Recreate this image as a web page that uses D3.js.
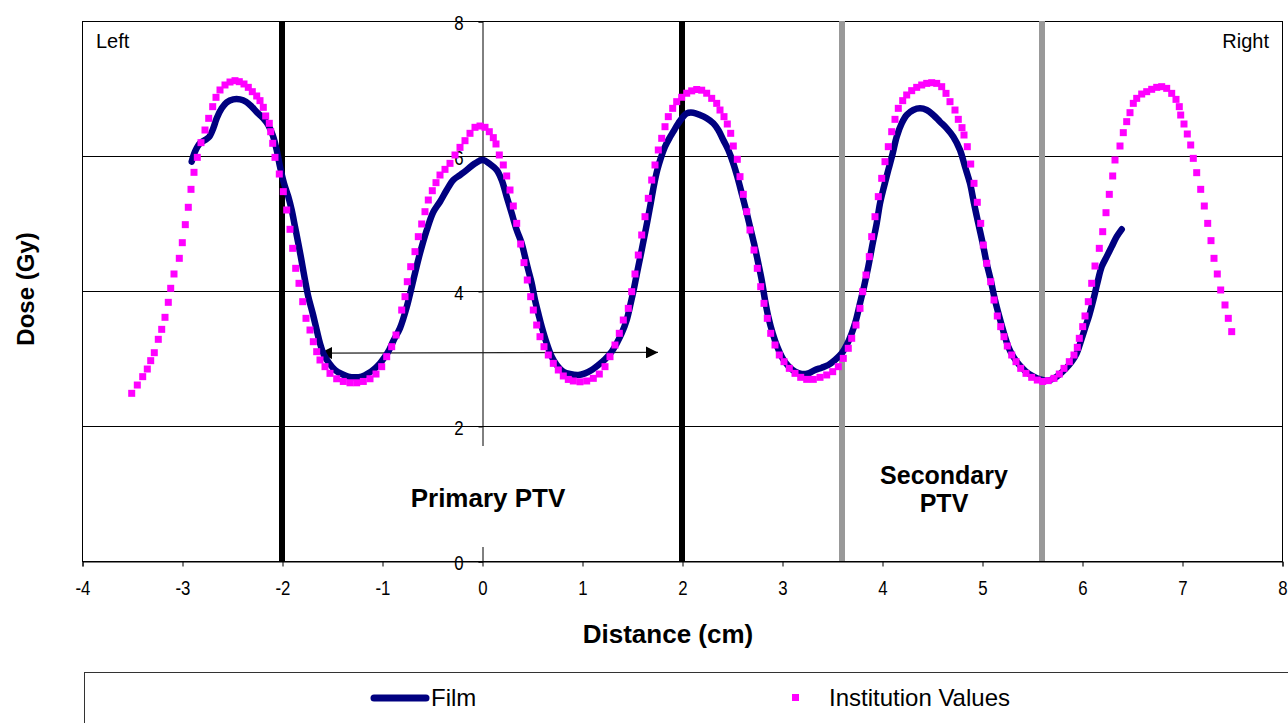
<!DOCTYPE html>
<html>
<head>
<meta charset="utf-8">
<script src="https://cdn.jsdelivr.net/npm/d3@7"></script>
<style>
  html, body { margin: 0; padding: 0; background: #fff; }
  svg { display: block; font-family: "Liberation Sans", Arial, sans-serif; }
</style>
</head>
<body>
<svg id="chart" width="1288" height="723"></svg>
<script>
// ---------------- DATA ----------------
const xTicks = [-4, -3, -2, -1, 0, 1, 2, 3, 4, 5, 6, 7, 8];
const yTicks = [0, 2, 4, 6, 8];

// Film (continuous line): [distance cm, dose Gy]
const filmX = [-2.903,-2.870,-2.820,-2.770,-2.727,-2.687,-2.653,-2.603,-2.553,-2.487,-2.420,-2.360,-2.303,-2.247,-2.187,-2.137,-2.093,-2.053,-2.020,-1.980,-1.937,-1.903,-1.870,-1.837,-1.803,-1.770,-1.737,-1.693,-1.653,-1.620,-1.580,-1.527,-1.470,-1.403,-1.337,-1.270,-1.203,-1.137,-1.070,-1.020,-0.970,-0.927,-0.887,-0.820,-0.753,-0.687,-0.620,-0.553,-0.487,-0.420,-0.353,-0.287,-0.220,-0.153,-0.070,0.007,0.080,0.147,0.197,0.247,0.297,0.347,0.397,0.430,0.463,0.497,0.530,0.563,0.597,0.647,0.697,0.747,0.813,0.880,0.963,1.030,1.097,1.163,1.230,1.297,1.347,1.397,1.447,1.487,1.520,1.553,1.587,1.620,1.653,1.687,1.720,1.753,1.787,1.830,1.873,1.913,1.963,2.047,2.113,2.180,2.247,2.313,2.363,2.413,2.463,2.513,2.553,2.597,2.640,2.680,2.720,2.763,2.797,2.830,2.863,2.907,2.953,3.007,3.063,3.130,3.197,3.263,3.330,3.397,3.463,3.530,3.597,3.647,3.697,3.740,3.780,3.820,3.863,3.907,3.947,3.980,4.020,4.063,4.107,4.147,4.197,4.247,4.313,4.380,4.447,4.513,4.580,4.647,4.713,4.780,4.830,4.880,4.920,4.963,5.007,5.047,5.087,5.130,5.173,5.220,5.263,5.313,5.373,5.440,5.507,5.580,5.653,5.720,5.780,5.840,5.897,5.947,5.987,6.030,6.073,6.113,6.153,6.197,6.247,6.297,6.347,6.397];
const filmY = [5.916,6.064,6.188,6.237,6.286,6.410,6.558,6.706,6.795,6.839,6.839,6.805,6.731,6.642,6.558,6.459,6.311,6.089,5.842,5.595,5.397,5.200,4.953,4.706,4.435,4.163,3.916,3.669,3.422,3.225,3.052,2.928,2.830,2.770,2.731,2.721,2.731,2.780,2.854,2.928,3.027,3.130,3.260,3.450,3.760,4.160,4.560,4.900,5.170,5.323,5.496,5.644,5.718,5.793,5.891,5.941,5.881,5.793,5.644,5.397,5.151,4.904,4.706,4.509,4.311,4.114,3.867,3.669,3.472,3.225,3.027,2.904,2.805,2.770,2.756,2.780,2.830,2.904,2.988,3.101,3.225,3.373,3.570,3.817,4.039,4.286,4.533,4.780,5.027,5.299,5.570,5.793,5.965,6.138,6.262,6.360,6.484,6.632,6.642,6.607,6.558,6.484,6.385,6.237,6.089,5.891,5.694,5.447,5.200,4.953,4.706,4.410,4.163,3.867,3.620,3.373,3.175,3.002,2.889,2.805,2.770,2.780,2.830,2.864,2.904,2.978,3.076,3.200,3.373,3.570,3.817,4.064,4.360,4.706,5.002,5.299,5.546,5.792,6.039,6.286,6.484,6.607,6.681,6.706,6.681,6.607,6.508,6.410,6.286,6.089,5.842,5.595,5.299,5.002,4.706,4.410,4.163,3.867,3.620,3.373,3.175,3.027,2.904,2.805,2.741,2.691,2.672,2.706,2.770,2.854,2.953,3.076,3.249,3.447,3.644,3.867,4.114,4.360,4.509,4.657,4.805,4.914];

// Institution Values (square markers)
const instX = [-3.503,-3.447,-3.393,-3.347,-3.313,-3.277,-3.237,-3.203,-3.170,-3.137,-3.113,-3.080,-3.027,-2.997,-2.967,-2.937,-2.910,-2.880,-2.847,-2.810,-2.770,-2.733,-2.693,-2.660,-2.620,-2.570,-2.520,-2.470,-2.427,-2.380,-2.337,-2.297,-2.253,-2.220,-2.187,-2.163,-2.127,-2.113,-2.093,-2.070,-2.027,-1.987,-1.953,-1.920,-1.893,-1.863,-1.830,-1.793,-1.760,-1.720,-1.687,-1.653,-1.620,-1.570,-1.520,-1.453,-1.387,-1.320,-1.253,-1.187,-1.120,-1.060,-1.003,-0.953,-0.903,-0.860,-0.803,-0.770,-0.747,-0.713,-0.670,-0.637,-0.603,-0.570,-0.537,-0.497,-0.460,-0.420,-0.370,-0.320,-0.270,-0.220,-0.170,-0.120,-0.070,-0.020,0.030,0.073,0.113,0.140,0.173,0.213,0.247,0.280,0.313,0.347,0.387,0.420,0.453,0.487,0.513,0.547,0.580,0.620,0.663,0.713,0.763,0.813,0.863,0.913,0.980,1.047,1.113,1.173,1.230,1.280,1.330,1.373,1.413,1.463,1.497,1.530,1.563,1.597,1.630,1.663,1.697,1.730,1.763,1.797,1.830,1.863,1.907,1.947,1.997,2.047,2.097,2.147,2.197,2.247,2.297,2.347,2.380,2.420,2.453,2.487,2.513,2.553,2.580,2.613,2.647,2.680,2.720,2.753,2.787,2.820,2.853,2.887,2.930,2.973,3.020,3.073,3.130,3.187,3.247,3.313,3.380,3.447,3.507,3.563,3.613,3.663,3.697,3.740,3.780,3.807,3.840,3.873,3.897,3.930,3.963,3.997,4.030,4.063,4.097,4.130,4.163,4.207,4.247,4.297,4.347,4.397,4.447,4.497,4.547,4.597,4.640,4.680,4.730,4.763,4.800,4.820,4.853,4.887,4.920,4.953,4.987,5.013,5.047,5.087,5.120,5.153,5.187,5.220,5.253,5.297,5.340,5.387,5.440,5.497,5.553,5.607,5.663,5.720,5.773,5.820,5.873,5.920,5.953,5.973,6.007,6.030,6.063,6.097,6.130,6.173,6.207,6.240,6.273,6.307,6.330,6.380,6.413,6.447,6.480,6.513,6.547,6.597,6.647,6.697,6.747,6.797,6.847,6.897,6.940,6.973,6.987,7.020,7.053,7.087,7.113,7.147,7.187,7.223,7.257,7.290,7.320,7.353,7.387,7.430,7.463,7.497];
const instY = [2.484,2.607,2.731,2.844,2.968,3.086,3.284,3.432,3.610,3.832,4.040,4.252,4.484,4.716,4.983,5.240,5.506,5.758,5.980,6.198,6.385,6.558,6.731,6.869,6.978,7.052,7.096,7.116,7.101,7.067,7.017,6.953,6.889,6.820,6.721,6.593,6.484,6.360,6.188,5.980,5.733,5.472,5.200,4.914,4.632,4.336,4.114,3.842,3.595,3.422,3.249,3.101,2.978,2.879,2.780,2.700,2.660,2.640,2.640,2.660,2.700,2.770,2.879,3.027,3.175,3.348,3.718,3.916,4.138,4.360,4.583,4.805,4.993,5.175,5.348,5.486,5.605,5.718,5.802,5.891,6.015,6.128,6.227,6.336,6.425,6.444,6.425,6.360,6.272,6.178,6.015,5.867,5.704,5.496,5.259,5.002,4.696,4.420,4.163,3.916,3.718,3.496,3.323,3.175,3.052,2.928,2.830,2.741,2.690,2.667,2.655,2.667,2.706,2.770,2.879,3.027,3.200,3.373,3.570,3.743,3.990,4.252,4.533,4.830,5.101,5.373,5.644,5.867,6.089,6.262,6.434,6.583,6.706,6.805,6.870,6.930,6.965,6.985,6.975,6.930,6.854,6.780,6.681,6.583,6.474,6.336,6.148,5.951,5.694,5.432,5.175,4.904,4.607,4.336,4.064,3.817,3.595,3.373,3.200,3.052,2.953,2.854,2.780,2.721,2.691,2.691,2.721,2.756,2.805,2.879,3.002,3.151,3.299,3.496,3.743,3.990,4.237,4.509,4.805,5.101,5.398,5.669,5.916,6.138,6.360,6.543,6.706,6.820,6.904,6.968,7.017,7.052,7.076,7.086,7.076,7.027,6.928,6.805,6.681,6.543,6.420,6.311,6.138,5.881,5.595,5.314,5.002,4.681,4.410,4.138,3.867,3.630,3.472,3.323,3.185,3.052,2.953,2.854,2.780,2.721,2.681,2.660,2.672,2.706,2.770,2.854,2.953,3.052,3.165,3.299,3.472,3.630,3.842,4.114,4.370,4.632,4.879,5.160,5.432,5.704,5.941,6.148,6.346,6.509,6.642,6.780,6.854,6.918,6.953,6.988,7.017,7.027,7.002,6.928,6.839,6.731,6.607,6.474,6.326,6.163,5.965,5.753,5.506,5.259,5.002,4.746,4.484,4.252,4.015,3.793,3.595,3.398];

// Target boundary lines
const primaryBounds = [-2, 2];
const secondaryBounds = [3.6, 5.6];
const arrowSpan = [-1.62, 1.76];
const arrowDose = 3.08;

// ---------------- CHART ----------------
const svg = d3.select("#chart");
const M = { left: 82, right: 1282, top: 21, bottom: 561 };
const x = d3.scaleLinear().domain([-4, 8]).range([M.left, M.right]);
const y = d3.scaleLinear().domain([0, 8]).range([M.bottom, M.top]);
const NARROW = 0.8;

// horizontal gridlines
svg.append("g").selectAll("line").data(yTicks.filter(d => d > 0)).join("line")
  .attr("x1", M.left).attr("x2", M.right)
  .attr("y1", d => y(d) + 0.5).attr("y2", d => y(d) + 0.5)
  .attr("stroke", "#000").attr("stroke-width", 1);

// plot border
svg.append("rect").attr("x", M.left + 0.5).attr("y", M.top + 0.5)
  .attr("width", M.right - M.left).attr("height", M.bottom - M.top)
  .attr("fill", "none").attr("stroke", "#000").attr("stroke-width", 1);

// y axis at x = 0
const yAxis = d3.axisLeft(y).tickValues(yTicks).tickSize(4).tickFormat(d => String(d));
const gy = svg.append("g").attr("transform", `translate(${x(0) + 0.5},0.5)`).call(yAxis);
gy.select(".domain").attr("stroke", "#000");
gy.selectAll(".tick line").attr("stroke", "#000");
gy.selectAll("text").attr("font-size", 21).attr("fill", "#000")
  .attr("x", -19 / NARROW).attr("dy", "0.36em")
  .attr("transform", `scale(${NARROW},1)`);

// x axis
const xAxis = d3.axisBottom(x).tickValues(xTicks).tickSize(5).tickFormat(d => String(d));
const gx = svg.append("g").attr("transform", `translate(0.5,${M.bottom + 0.5})`).call(xAxis);
gx.select(".domain").attr("stroke", "#000");
gx.selectAll(".tick line").attr("stroke", "#000");
gx.selectAll("text").attr("font-size", 21).attr("fill", "#000")
  .attr("y", 34).attr("dy", 0)
  .attr("transform", `scale(${NARROW},1)`);

// white label box behind Primary PTV (hides axis line)
svg.append("rect").attr("x", 400).attr("y", 446).attr("width", 175).attr("height", 101).attr("fill", "#fff");

// PTV boundary lines
svg.append("g").selectAll("line").data(primaryBounds).join("line")
  .attr("x1", d => x(d)).attr("x2", d => x(d))
  .attr("y1", M.top).attr("y2", M.bottom)
  .attr("stroke", "#000").attr("stroke-width", 6);
svg.append("g").selectAll("line").data(secondaryBounds).join("line")
  .attr("x1", d => x(d)).attr("x2", d => x(d))
  .attr("y1", M.top).attr("y2", M.bottom)
  .attr("stroke", "#999").attr("stroke-width", 6);

// arrow
const defs = svg.append("defs");
defs.append("marker").attr("id", "ah").attr("viewBox", "0 0 10 10")
  .attr("refX", 10).attr("refY", 5).attr("markerWidth", 15).attr("markerHeight", 12)
  .attr("markerUnits", "userSpaceOnUse").attr("orient", "auto-start-reverse")
  .append("path").attr("d", "M0,0 L10,5 L0,10 Z").attr("fill", "#000");
svg.append("line")
  .attr("x1", x(arrowSpan[0])).attr("x2", x(arrowSpan[1]))
  .attr("y1", y(arrowDose)).attr("y2", y(arrowDose) - 0.7)
  .attr("stroke", "#222").attr("stroke-width", 1.2)
  .attr("marker-start", "url(#ah)").attr("marker-end", "url(#ah)");

// Film line
const film = filmX.map((d, i) => [d, filmY[i]]);
svg.append("path").datum(film)
  .attr("d", d3.line().x(d => x(d[0])).y(d => y(d[1])).curve(d3.curveCatmullRom))
  .attr("fill", "none").attr("stroke", "#000080").attr("stroke-width", 6.5)
  .attr("stroke-linecap", "round").attr("stroke-linejoin", "round");

// Institution markers
const inst = instX.map((d, i) => [d, instY[i]]);
const S = 7;
svg.append("g").selectAll("rect").data(inst).join("rect")
  .attr("x", d => x(d[0]) - S / 2).attr("y", d => y(d[1]) - S / 2)
  .attr("width", S).attr("height", S).attr("fill", "#ff00ff");

// text annotations
svg.append("text").attr("x", 96).attr("y", 48).attr("font-size", 20).text("Left");
svg.append("text").attr("x", 1269).attr("y", 48).attr("font-size", 20).attr("text-anchor", "end").text("Right");
svg.append("text").attr("x", 488).attr("y", 507).attr("font-size", 26).attr("font-weight", "bold")
  .attr("text-anchor", "middle").text("Primary PTV");
svg.append("text").attr("x", 944).attr("y", 484).attr("font-size", 25).attr("font-weight", "bold")
  .attr("text-anchor", "middle").text("Secondary");
svg.append("text").attr("x", 944).attr("y", 512).attr("font-size", 25).attr("font-weight", "bold")
  .attr("text-anchor", "middle").text("PTV");

// axis titles
svg.append("text").attr("x", 668).attr("y", 643).attr("font-size", 26).attr("font-weight", "bold")
  .attr("text-anchor", "middle").text("Distance (cm)");
svg.append("text").attr("transform", "translate(34,289) rotate(-90)").attr("font-size", 24)
  .attr("font-weight", "bold").attr("text-anchor", "middle").text("Dose (Gy)");

// legend
svg.append("rect").attr("x", 84.5).attr("y", 672.5).attr("width", 1230).attr("height", 80)
  .attr("fill", "#fff").attr("stroke", "#333").attr("stroke-width", 1);
svg.append("line").attr("x1", 374).attr("x2", 426).attr("y1", 698).attr("y2", 698)
  .attr("stroke", "#000080").attr("stroke-width", 7).attr("stroke-linecap", "round");
svg.append("text").attr("x", 431).attr("y", 706).attr("font-size", 24).text("Film");
svg.append("rect").attr("x", 792).attr("y", 694).attr("width", 7).attr("height", 7).attr("fill", "#ff00ff");
svg.append("text").attr("x", 829).attr("y", 706).attr("font-size", 24).text("Institution Values");
</script>
</body>
</html>
